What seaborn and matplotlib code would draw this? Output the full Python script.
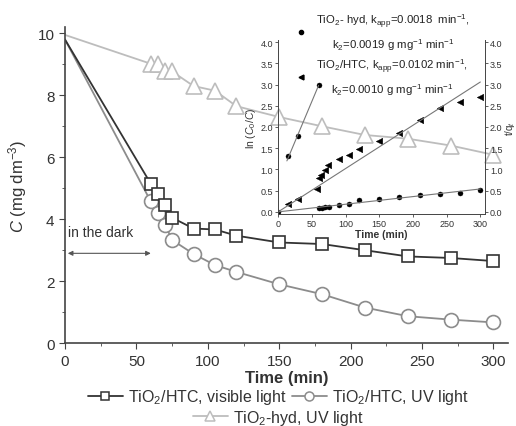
# Photocatalytic degradation: concentration vs time, with kinetic inset
import numpy as np
import matplotlib
matplotlib.use("Agg")
import matplotlib.pyplot as plt
from matplotlib.lines import Line2D
import seaborn as sns

# ------------------------------------------------------------
# Data
# ------------------------------------------------------------
time_main = [0, 60, 65, 70, 75, 90, 105, 120, 150, 180, 210, 240, 270, 300]
c_htc_vis = [9.8, 5.15, 4.8, 4.45, 4.05, 3.7, 3.67, 3.47, 3.25, 3.2, 3.0, 2.8, 2.75, 2.65]
c_htc_uv = [9.8, 4.58, 4.2, 3.83, 3.33, 2.88, 2.52, 2.3, 1.9, 1.58, 1.15, 0.87, 0.76, 0.67]
c_hyd_uv = [9.95, 9.02, 9.02, 8.77, 8.77, 8.3, 8.15, 7.65, 7.3, 7.0, 6.72, 6.6, 6.38, 6.08]

# inset: ln(C0/C) vs time
t_hyd_ln = [0, 60, 65, 70, 75, 90, 105, 120, 150, 180, 210, 240, 270, 300]
ln_hyd = [0, 0.09, 0.10, 0.11, 0.12, 0.17, 0.19, 0.27, 0.31, 0.36, 0.40, 0.42, 0.45, 0.51]
t_htc_ln = [15, 30, 57, 60, 64, 69, 74, 90, 105, 120, 150, 180, 210, 240, 270, 300]
ln_htc = [0.19, 0.31, 0.54, 0.79, 0.87, 0.98, 1.10, 1.25, 1.34, 1.48, 1.68, 1.86, 2.17, 2.45, 2.60, 2.70]

# inset: t/qt (adsorption, pseudo-second order)
t_ads = [15, 30, 60]
t_over_q = [1.32, 1.78, 3.0]

k_app_hyd = 0.0018
k_app_htc = 0.0102

# ------------------------------------------------------------
# Style
# ------------------------------------------------------------
sns.set_style("ticks")
plt.rcParams['font.family'] = ['Liberation Sans', 'DejaVu Sans']
plt.rcParams['mathtext.fontset'] = 'custom'
plt.rcParams['mathtext.rm'] = 'Liberation Sans'
plt.rcParams['mathtext.it'] = 'Liberation Sans:italic'
plt.rcParams['mathtext.bf'] = 'Liberation Sans:bold'

dark = "#333333"
mid = "#8c8c8c"
light = "#bdbdbd"

fig = plt.figure(figsize=(5.16, 4.27), dpi=100)
ax = fig.add_axes([0.126, 0.194, 0.858, 0.740])

# ------------------------------------------------------------
# Main curves
# ------------------------------------------------------------
series = [
    (c_hyd_uv, "^", light, 11),
    (c_htc_uv, "o", mid, 10),
    (c_htc_vis, "s", dark, 9),
]
for values, mk, col, ms in series:
    sns.lineplot(x=time_main, y=values, ax=ax, color=col, lw=1.3,
                 marker=mk, markersize=ms, markerfacecolor="white",
                 markeredgecolor=col, markeredgewidth=1.2,
                 markevery=slice(1, None), sort=False, estimator=None)

ax.set_xlim(0, 310)
ax.set_ylim(0, 10.2)
ax.set_xticks(range(0, 301, 50))
ax.set_xticks(range(25, 301, 50), minor=True)
ax.set_yticks(range(0, 11, 2))
ax.set_yticks(range(1, 11, 2), minor=True)
ax.tick_params(axis="both", which="major", labelsize=11, length=4,
               direction="out", colors="#444444", labelcolor="#333333")
ax.tick_params(axis="both", which="minor", length=2.5, direction="out", colors="#444444")
sns.despine(ax=ax)
for s in ["left", "bottom"]:
    ax.spines[s].set_color("#444444")
    ax.spines[s].set_linewidth(1.2)

ax.set_xlabel("Time (min)", fontsize=12, fontweight="bold", labelpad=2, color="#333333")
ax.set_ylabel(r"$C$ (mg dm$^{-3}$)", fontsize=12, labelpad=6, color="#333333")

ax.text(2, 3.45, "in the dark", fontsize=10, color="#333333")
ax.annotate("", xy=(0, 2.9), xytext=(62, 2.9),
            arrowprops=dict(arrowstyle="<|-|>", color="#555555", lw=0.8,
                            mutation_scale=7))

# main legend (two rows)
h_vis = Line2D([], [], color=dark, lw=1.3, marker="s", ms=6, mfc="white", mec=dark, mew=1.1)
h_uv = Line2D([], [], color=mid, lw=1.3, marker="o", ms=6.5, mfc="white", mec=mid, mew=1.1)
h_hyd = Line2D([], [], color=light, lw=1.3, marker="^", ms=7, mfc="white", mec=light, mew=1.1)
leg1 = fig.legend(handles=[h_vis, h_uv],
                  labels=[r"TiO$_2$/HTC, visible light", r"TiO$_2$/HTC, UV light"],
                  ncol=2, loc="center", bbox_to_anchor=(0.539, 0.068), frameon=False,
                  fontsize=11.5, columnspacing=0.3, handletextpad=0.3, handlelength=2.2,
                  borderpad=0.1)
leg2 = fig.legend(handles=[h_hyd], labels=[r"TiO$_2$-hyd, UV light"],
                  loc="center", bbox_to_anchor=(0.539, 0.021), frameon=False,
                  fontsize=11.5, handletextpad=0.3, handlelength=2.2, borderpad=0.1)
for lg in (leg1, leg2):
    for t in lg.get_texts():
        t.set_color("#333333")

# ------------------------------------------------------------
# Inset
# ------------------------------------------------------------
ax_in = fig.add_axes([0.539, 0.4965, 0.401, 0.4075])
ax_in.patch.set_alpha(0)

t_fit = np.array([0, 300])
sns.lineplot(x=t_fit, y=k_app_htc * t_fit, ax=ax_in, color="#777777", lw=0.8)
sns.lineplot(x=t_fit, y=k_app_hyd * t_fit, ax=ax_in, color="#777777", lw=0.8)
sns.scatterplot(x=t_htc_ln, y=ln_htc, ax=ax_in, marker="<", s=22, color="black",
                edgecolor="black", linewidth=0.3)
sns.scatterplot(x=t_hyd_ln, y=ln_hyd, ax=ax_in, marker="o", s=13, color="black",
                edgecolor="black", linewidth=0.3)

ax_in.set_xlim(0, 307)
ax_in.set_ylim(-0.05, 4.05)
ax_in.set_xticks(range(0, 301, 50))
ax_in.set_yticks(np.arange(0, 4.01, 0.5))
ax_in.set_yticklabels([f"{v:.1f}" for v in np.arange(0, 4.01, 0.5)])
ax_in.tick_params(labelsize=6.5, length=2, width=0.6, pad=1.5, colors="#444444",
                  labelcolor="#333333")
ax_in.set_xlabel("Time (min)", fontsize=7.5, fontweight="bold", labelpad=1, color="#333333")
ax_in.set_ylabel(r"ln ($C_0$/$C$)", fontsize=7.5, labelpad=2, color="#333333")
for s in ["left", "bottom"]:
    ax_in.spines[s].set_linewidth(0.7)
    ax_in.spines[s].set_color("#444444")
ax_in.spines["top"].set_visible(False)
ax_in.spines["right"].set_visible(False)

ax_r = ax_in.twinx()
ax_r.patch.set_alpha(0)
slope, icpt = np.polyfit(t_ads, t_over_q, 1)
t_line = np.array([t_ads[0] - 2, t_ads[-1]])
sns.lineplot(x=t_line, y=slope * t_line + icpt, ax=ax_r, color="#777777", lw=0.8)
sns.scatterplot(x=t_ads, y=t_over_q, ax=ax_r, marker="o", s=13, color="black",
                edgecolor="black", linewidth=0.3)
ax_r.set_ylim(-0.05, 4.05)
ax_r.set_yticks(np.arange(0, 4.01, 0.5))
ax_r.set_yticklabels([f"{v:.1f}" for v in np.arange(0, 4.01, 0.5)])
ax_r.tick_params(labelsize=6.5, length=2, width=0.6, pad=1.5, colors="#444444",
                 labelcolor="#333333")
ax_r.set_ylabel(r"t/q$_t$", fontsize=7, labelpad=0.5, color="#333333")
ax_r.spines["top"].set_visible(False)
ax_r.spines["left"].set_visible(False)
ax_r.spines["bottom"].set_visible(False)
ax_r.spines["right"].set_linewidth(0.7)
ax_r.spines["right"].set_color("#444444")

# inset legend
h_dot = Line2D([], [], ls="none", marker="o", ms=3, color="black")
h_tri = Line2D([], [], ls="none", marker="<", ms=3.5, color="black")
lab_hyd = (r"TiO$_2$- hyd, k$_{\mathrm{app}}$=0.0018  min$^{-1}$," + "\n"
           + r"k$_2$=0.0019 g mg$^{-1}$ min$^{-1}$")
lab_htc = (r"TiO$_2$/HTC, k$_{\mathrm{app}}$=0.0102 min$^{-1}$," + "\n"
           + r"k$_2$=0.0010 g mg$^{-1}$ min$^{-1}$")
leg_in = fig.legend(handles=[h_dot, h_tri], labels=[lab_hyd, lab_htc],
                    loc="upper left", bbox_to_anchor=(0.553, 0.993), frameon=False,
                    fontsize=8.2, handlelength=1.0, handletextpad=0.8,
                    labelspacing=0.5)
for t in leg_in.get_texts():
    t.set_multialignment("center")
    t.set_linespacing(1.45)
    t.set_color("#222222")

fig.savefig("out.png", dpi=100)
